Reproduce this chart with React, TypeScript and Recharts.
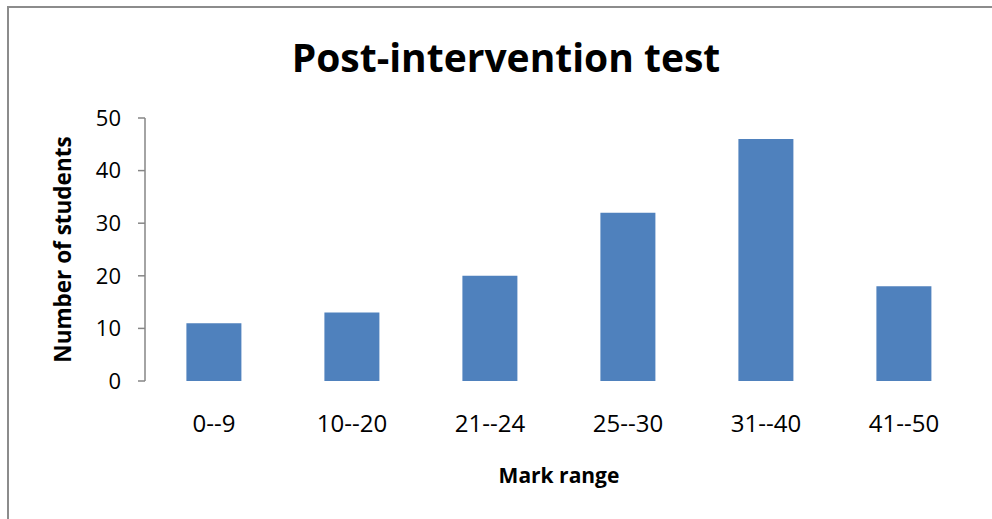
import React from 'react';
import { BarChart, Bar, XAxis, YAxis } from 'recharts';

const categories = ['0--9', '10--20', '21--24', '25--30', '31--40', '41--50'];
const students = [11, 13, 20, 32, 46, 18];
const yTicks = [0, 10, 20, 30, 40, 50];
const title = 'Post-intervention test';
const xLabel = 'Mark range';
const yLabel = 'Number of students';

const data = categories.map((c, i) => ({ range: c, idx: i, students: students[i] }));
const boundaryTicks = categories.map((_, i) => i).concat(categories.length);

const FONT = '"Open Sans", sans-serif';
const AXIS = '#868686';

const EmptyTick = () => <g />;

export default function App() {
  return (
    <div style={{ position: 'absolute', left: 0, top: 0, width: 992, height: 519, overflow: 'hidden', background: '#fff', fontFamily: FONT }}>
      <div style={{ position: 'absolute', left: 7, top: 6, width: 985, height: 2, background: '#8c8c8c' }} />
      <div style={{ position: 'absolute', left: 7, top: 6, width: 2, height: 513, background: '#8c8c8c' }} />
      <div style={{ position: 'absolute', left: 20, top: 37, width: 972, textAlign: 'center', fontSize: 39, lineHeight: '39px', fontWeight: 700, color: '#000', fontFamily: FONT, whiteSpace: 'nowrap' }}>
        {title}
      </div>
      <div style={{ position: 'absolute', left: 0, top: 0 }}>
        <BarChart width={992} height={519} data={data} margin={{ top: 118, right: 19, left: 0, bottom: 0 }} barCategoryGap="30%">
          <XAxis
            xAxisId="bound"
            type="number"
            dataKey="idx"
            domain={[0, categories.length]}
            ticks={boundaryTicks}
            height={0}
            tickSize={8}
            tick={EmptyTick}
            axisLine={{ stroke: AXIS, strokeWidth: 1.5 }}
            tickLine={{ stroke: AXIS, strokeWidth: 1.5 }}
            allowDataOverflow
          />
          <XAxis
            xAxisId="cat"
            dataKey="range"
            height={138}
            axisLine={false}
            tickLine={false}
            tickSize={0}
            tickMargin={34}
            interval={0}
            tick={{ fill: '#000', fontSize: 24, fontFamily: FONT }}
            label={{ value: xLabel, position: 'insideBottom', offset: 36, fill: '#000', fontSize: 21, fontWeight: 700, fontFamily: FONT }}
          />
          <YAxis
            width={145}
            domain={[0, 50]}
            ticks={yTicks}
            tickSize={7}
            tickMargin={17}
            axisLine={{ stroke: AXIS, strokeWidth: 1.5 }}
            tickLine={{ stroke: AXIS, strokeWidth: 1.5 }}
            tick={{ fill: '#000', fontSize: 22, fontFamily: FONT }}
            label={{ value: yLabel, angle: -90, position: 'insideLeft', offset: 63, fill: '#000', fontSize: 22.5, fontWeight: 700, fontFamily: FONT, style: { textAnchor: 'middle' } }}
          />
          <Bar dataKey="students" xAxisId="cat" fill="#4F81BD" isAnimationActive={false} />
        </BarChart>
      </div>
    </div>
  );
}
